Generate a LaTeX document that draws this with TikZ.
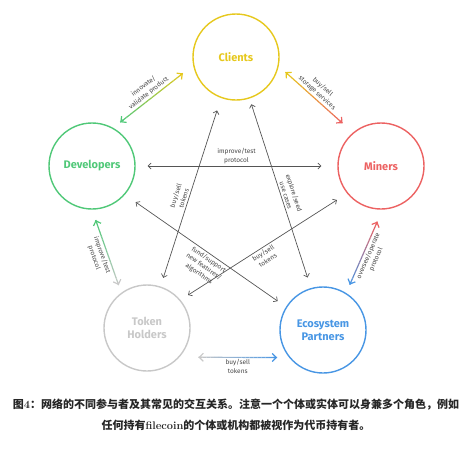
\documentclass[tikz,border=0pt]{standalone}
\usepackage{fontspec}
\newfontfamily\plex{Fira Sans}
\newfontfamily\cjk{Noto Sans CJK SC}
\usetikzlibrary{arrows.meta,calc}

\definecolor{cliyellow}{RGB}{230,200,30}
\definecolor{devgreen}{RGB}{80,200,120}
\definecolor{minred}{RGB}{236,98,98}
\definecolor{tokgray}{RGB}{200,200,200}
\definecolor{ecoblue}{RGB}{72,150,228}
\definecolor{linkgray}{RGB}{85,85,85}
\definecolor{lblgray}{RGB}{70,70,70}

\tikzset{
  actor/.style={circle, draw, line width=1.4pt, minimum size=86pt, inner sep=0pt, align=center,
    font=\plex\bfseries\fontsize{11}{13}\selectfont},
  link/.style={draw=linkgray, line width=0.7pt,
    {Straight Barb[length=3pt,width=6pt]}-{Straight Barb[length=3pt,width=6pt]}},
  lbl/.style={font=\plex\fontsize{6.5}{8.4}\selectfont, text=lblgray, align=center, inner sep=2pt},
  gradseg/.style={line width=1.2pt},
  gradtip/.style={line width=1.2pt, -{Straight Barb[length=4pt,width=8pt]}},
}

% colour runs from #3 at (#1) to #4 at (#2)
\newcommand{\gradlink}[4]{%
  \foreach \i in {0,...,19}{
    \pgfmathtruncatemacro{\mixp}{100-5*\i}
    \draw[gradseg, draw=#3!\mixp!#4] ($(#1)!{\i/20}!(#2)$) -- ($(#1)!{\i/20+0.05}!(#2)$);
  }
  \draw[gradtip, draw=#3] ($(#1)!0.05!(#2)$) -- (#1);
  \draw[gradtip, draw=#4] ($(#1)!0.95!(#2)$) -- (#2);
}

\begin{document}
\begin{tikzpicture}[x=1pt, y=-1pt]
  \useasboundingbox (0,0) rectangle (470,450);

  % actors
  \node[actor, draw=cliyellow, text=cliyellow] (cli) at (236,57) {Clients};
  \node[actor, draw=devgreen, text=devgreen] (dev) at (92,166) {Developers};
  \node[actor, draw=minred, text=minred] (min) at (381,166) {Miners};
  \node[actor, draw=tokgray, text=tokgray] (tok) at (147,328) {Token\\Holders};
  \node[actor, draw=ecoblue, text=ecoblue] (eco) at (323,330) {Ecosystem\\Partners};

  % gray links
  \draw[link, shorten <=12pt, shorten >=16pt] (dev.east) -- (min.west)
    node[lbl, midway, above] {improve/test\\protocol};
  \draw[link, shorten <=13pt, shorten >=9pt] (cli.250) -- (tok.72)
    node[lbl, pos=0.54, sloped, above] {buy/sell\\tokens};
  \draw[link, shorten <=6pt, shorten >=11pt] (cli.288) -- (eco.106)
    node[lbl, pos=0.52, sloped, above] {explore/seed\\use cases};
  \draw[link, shorten <=13pt, shorten >=10pt] (dev.-41) -- (eco.148)
    node[lbl, pos=0.54, sloped, below] {fund/support\\new features/\\algorithms};
  \draw[link, shorten <=9pt, shorten >=12pt] (tok.40) -- (min.219)
    node[lbl, pos=0.48, sloped, below] {buy/sell\\tokens};

  % ends of the shaded links
  \coordinate (dc-a) at ($(dev.61)!9pt!(cli.191)$);
  \coordinate (dc-b) at ($(cli.191)!13pt!(dev.61)$);
  \coordinate (cm-a) at ($(cli.-12)!9pt!(min.130)$);
  \coordinate (cm-b) at ($(min.130)!14pt!(cli.-12)$);
  \coordinate (dt-a) at ($(dev.270)!11pt!(tok.126)$);
  \coordinate (dt-b) at ($(tok.126)!8pt!(dev.270)$);
  \coordinate (me-a) at ($(min.272)!13pt!(eco.58)$);
  \coordinate (me-b) at ($(eco.58)!9pt!(min.272)$);
  \coordinate (te-a) at ($(tok.-42)!19pt!(eco.219)$);
  \coordinate (te-b) at ($(eco.219)!12pt!(tok.-42)$);

  % shaded links
  \gradlink{dc-a}{dc-b}{devgreen}{cliyellow}
  \path (dc-a) -- (dc-b) node[lbl, pos=0.51, sloped, above] {innovate/\\validate product};
  \gradlink{cm-a}{cm-b}{cliyellow}{minred}
  \path (cm-a) -- (cm-b) node[lbl, pos=0.49, sloped, above] {buy/sell\\storage services};
  \gradlink{dt-a}{dt-b}{devgreen}{tokgray}
  \path (dt-a) -- (dt-b) node[lbl, pos=0.51, sloped, below] {improve/test\\protocol};
  \gradlink{me-a}{me-b}{minred}{ecoblue}
  \path (me-a) -- (me-b) node[lbl, pos=0.51, sloped, below] {oversee/operate\\protocol};
  \gradlink{te-a}{te-b}{tokgray}{ecoblue}
  \path (te-a) -- (te-b) node[lbl, midway, below] {buy/sell\\tokens};

  % caption
  \node[font=\cjk\bfseries\fontsize{11}{14}\selectfont, text=black!85] (cap1) at (236,405)
    {图\textrm{4}：网络的不同参与者及其常见的交互关系。注意一个个体或实体可以身兼多个角色，例如};
  \node[font=\cjk\bfseries\fontsize{11}{14}\selectfont, text=black!85] (cap2) at (236,425)
    {任何持有\textrm{filecoin}的个体或机构都被视作为代币持有者。};
\end{tikzpicture}
\end{document}
